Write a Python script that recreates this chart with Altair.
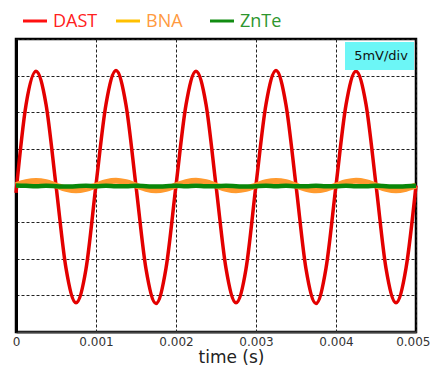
import altair as alt
import pandas as pd

# sample times (s), every 1/8 of the 1 ms period
time_s = [0.0, 0.000125, 0.00025, 0.000375, 0.0005, 0.000625, 0.00075, 0.000875,
          0.001, 0.001125, 0.00125, 0.001375, 0.0015, 0.001625, 0.00175, 0.001875,
          0.002, 0.002125, 0.00225, 0.002375, 0.0025, 0.002625, 0.00275, 0.002875,
          0.003, 0.003125, 0.00325, 0.003375, 0.0035, 0.003625, 0.00375, 0.003875,
          0.004, 0.004125, 0.00425, 0.004375, 0.0045, 0.004625, 0.00475, 0.004875,
          0.005]

# signal (mV), 5 mV per division
dast = [-1.0, 11.0, 15.6, 11.1, 0.0, -11.3, -16.0, -11.4,
        0.1, 11.1, 15.7, 11.0, -0.1, -11.4, -16.1, -11.3,
        0.0, 11.0, 15.6, 11.1, 0.0, -11.3, -16.0, -11.4,
        0.1, 11.1, 15.7, 11.0, 0.0, -11.4, -16.1, -11.3,
        0.0, 11.0, 15.6, 11.1, 0.1, -11.3, -16.0, -11.3,
        0.0]
bna = [0.05, 0.45, 0.62, 0.45, 0.0, -0.45, -0.65, -0.45,
       0.0, 0.45, 0.64, 0.44, 0.0, -0.46, -0.66, -0.45,
       0.02, 0.46, 0.65, 0.45, 0.0, -0.44, -0.64, -0.45,
       0.0, 0.45, 0.63, 0.45, -0.02, -0.45, -0.66, -0.46,
       0.0, 0.44, 0.64, 0.45, 0.0, -0.45, -0.65, -0.44,
       0.0]
znte = [0.0, -0.05, -0.1, -0.05, -0.1, -0.15, -0.1, -0.05,
        -0.1, -0.05, -0.1, -0.1, -0.05, -0.1, -0.15, -0.1,
        -0.05, -0.1, -0.05, -0.1, -0.1, -0.05, -0.1, -0.15,
        -0.1, -0.05, -0.1, -0.05, -0.1, -0.1, -0.05, -0.1,
        -0.1, -0.05, -0.1, -0.1, -0.05, -0.1, -0.15, -0.1,
        -0.05]

x_ticks = [0, 0.001, 0.002, 0.003, 0.004, 0.005]
y_ticks = [-20, -15, -10, -5, 0, 5, 10, 15, 20]

series_names = ["DAST", "BNA", "ZnTe"]
series_values = [dast, bna, znte]
line_colors = ["#E30000", "#FF9A2E", "#0A870A"]
legend_line_colors = ["#FF1010", "#FFC000", "#128C12"]
legend_text_colors = ["#FF2020", "#FF9A40", "#2E962E"]
line_widths = [3.5, 6, 4.5]

rows = []
for name, vals in zip(series_names, series_values):
    for t, v in zip(time_s, vals):
        rows.append({"t": t, "v": v, "series": name})
df = pd.DataFrame(rows)

grid_dash = [3, 2]
x_enc = alt.X(
    "t:Q", scale=alt.Scale(domain=[0, 0.005], nice=False),
    axis=alt.Axis(
        values=x_ticks, format=".3~f", title="time (s)",
        grid=True, gridColor="#222", gridDash=grid_dash, gridWidth=1,
        ticks=False, labelFont="DejaVu Sans", labelFontSize=12,
        labelColor="#333", labelPadding=4, labelFlush=False,
        labelAlign={"condition": {"test": "datum.value >= 0.0049", "value": "right"}, "value": "center"},
        labelOffset={"condition": {"test": "datum.value >= 0.0049", "value": 14}, "value": 0},
        titleFont="DejaVu Sans", titleFontSize=17, titleFontWeight="normal",
        titleColor="#222", titleX=215, titleY=30, titleBaseline="alphabetic",
        titleAlign="center",
        domainColor="#444", domainWidth=2))

y_enc = alt.Y(
    "v:Q", scale=alt.Scale(domain=[-20, 20], nice=False),
    axis=alt.Axis(values=y_ticks, labels=False, ticks=False, title=None,
                  grid=True, gridColor="#222", gridDash=grid_dash, gridWidth=1,
                  domainColor="black", domainWidth=3))

layers = []
for i, name in enumerate(series_names):
    layers.append(
        alt.Chart(df).transform_filter(alt.datum.series == name)
        .mark_line(color=line_colors[i], strokeWidth=line_widths[i], interpolate="monotone")
        .encode(x=x_enc, y=y_enc)
    )

one = alt.Data(values=[{"a": 1}])

# legend (manual)
legend_line_x = [7, 100, 194]
for i, name in enumerate(series_names):
    lx = legend_line_x[i]
    layers.append(
        alt.Chart(one).mark_rule(color=legend_line_colors[i], strokeWidth=3)
        .encode(x=alt.value(lx), x2=alt.value(lx + 24), y=alt.value(-18))
    )
    layers.append(
        alt.Chart(one).mark_text(text=name, align="left", baseline="middle",
                                 font="Open Sans", fontSize=18, color=legend_text_colors[i])
        .encode(x=alt.value(lx + 30), y=alt.value(-17))
    )

# scale box
layers.append(
    alt.Chart(one).mark_rect(color="#6CF6F6")
    .encode(x=alt.value(329), x2=alt.value(398), y=alt.value(3), y2=alt.value(31))
)
layers.append(
    alt.Chart(one).mark_text(text="5mV/div", align="center", baseline="middle",
                             font="DejaVu Sans", fontSize=13, color="#111")
    .encode(x=alt.value(365), y=alt.value(17))
)

chart = alt.layer(*layers).properties(
    width=400, height=293,
    background="white",
    autosize=alt.AutoSizeParams(type="none"),
    padding={"left": 8, "top": 31, "right": 14, "bottom": 34},
).configure_view(stroke="black", strokeWidth=2.5)

chart.save("out.html", embed_options={"renderer": "svg", "actions": False})
